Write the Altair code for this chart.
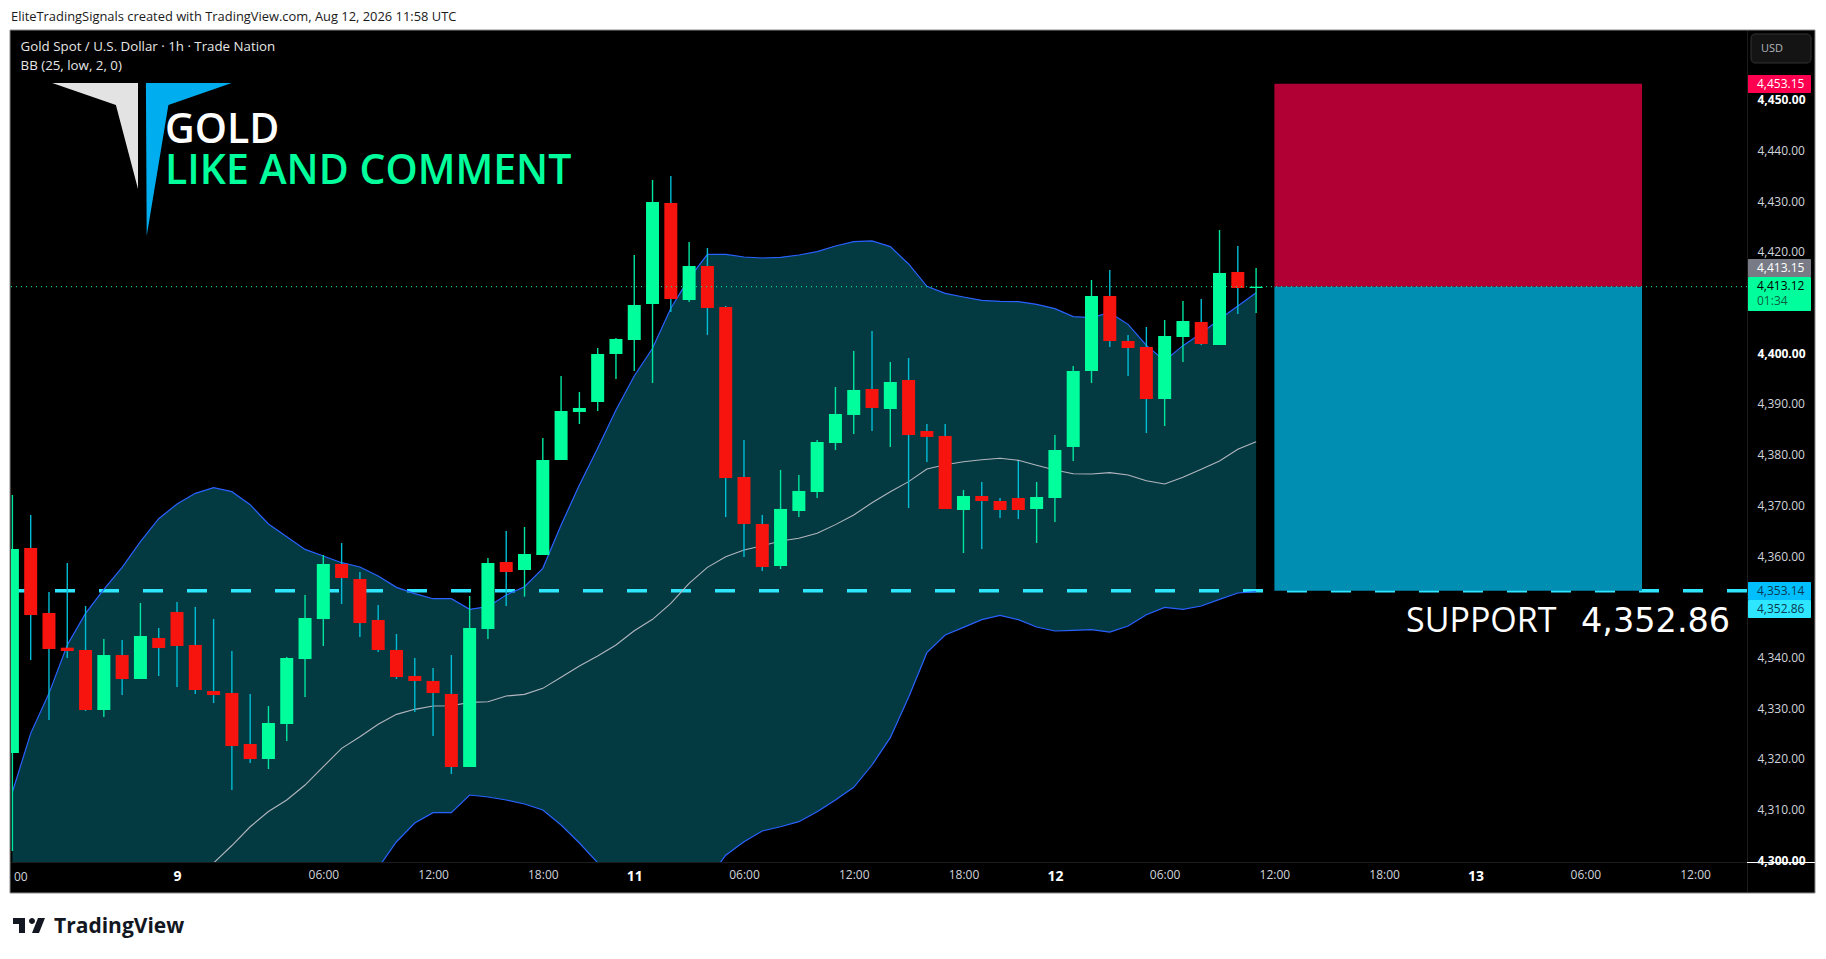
import altair as alt
import pandas as pd

# ---- candles (bar index = position in the list)
opens = [4321.14,4361.58,4348.76,4341.92,4341.46,4329.63,4340.47,4335.74,4343.83,4348.95,
         4342.45,4333.37,4332.98,4322.92,4319.96,4326.86,4339.68,4347.57,4358.42,4355.46,
         4347.38,4341.46,4336.33,4335.35,4332.78,4318.38,4345.60,4358.82,4357.24,4360.20,
         4378.94,4388.41,4390.38,4399.85,4402.61,4409.71,4429.63,4410.50,4417.20,4409.12,
         4375.59,4366.32,4358.03,4368.88,4372.63,4382.29,4387.82,4392.94,4389.00,4394.72,
         4384.66,4383.67,4369.08,4371.84,4370.85,4371.44,4369.27,4371.44,4381.50,4396.49,
         4411.29,4402.41,4401.23,4390.97,4403.20,4406.16,4401.62,4416.02,4412.86]
closes = [4361.38,4348.36,4341.66,4341.26,4329.63,4340.47,4335.74,4344.22,4341.85,4342.25,
          4333.57,4332.58,4322.52,4319.96,4327.06,4339.88,4347.77,4358.42,4355.66,4346.78,
          4341.46,4336.13,4335.35,4332.98,4318.38,4345.80,4358.62,4356.85,4360.40,4378.94,
          4388.60,4389.20,4399.85,4402.81,4409.51,4429.83,4410.70,4417.20,4408.92,4375.39,
          4366.32,4357.84,4369.28,4372.83,4382.49,4388.01,4392.75,4389.20,4394.32,4383.87,
          4383.48,4369.27,4371.84,4370.85,4369.08,4369.08,4371.64,4380.91,4396.49,4411.29,
          4402.41,4401.03,4390.97,4403.40,4406.35,4401.82,4415.82,4412.86,4413.12]
highs = [4372.03,4368.09,4352.90,4358.62,4350.14,4343.63,4343.43,4350.73,4345.80,4350.93,
         4349.94,4347.57,4341.26,4332.78,4330.41,4340.08,4352.31,4360.20,4362.56,4356.84,
         4350.33,4344.62,4339.88,4337.91,4340.47,4352.11,4359.60,4364.94,4365.73,4383.28,
         4395.51,4392.35,4401.03,4403.00,4419.37,4434.17,4434.96,4421.94,4420.76,4409.32,
         4382.89,4368.09,4376.97,4375.98,4382.89,4393.34,4400.44,4404.38,4398.27,4399.06,
         4386.04,4386.04,4373.02,4374.60,4371.44,4378.74,4374.60,4383.87,4397.48,4414.44,
         4416.41,4403.59,4405.17,4406.55,4410.30,4410.69,4424.30,4421.15,4416.81]
lows = [4301.80,4339.49,4327.65,4339.88,4329.43,4328.24,4332.58,4335.74,4336.33,4334.16,
        4332.78,4331.01,4313.85,4319.17,4317.99,4323.51,4332.19,4342.25,4350.53,4344.02,
        4341.07,4335.74,4329.23,4324.50,4317.00,4318.38,4343.63,4350.14,4351.98,4360.20,
        4378.94,4386.04,4388.60,4394.92,4396.50,4394.13,4408.13,4410.10,4403.60,4367.70,
        4359.81,4357.05,4357.44,4367.70,4371.45,4380.91,4384.07,4384.66,4381.50,4369.47,
        4378.55,4369.27,4360.60,4361.38,4367.50,4367.30,4362.57,4366.71,4378.74,4394.13,
        4401.23,4395.51,4384.26,4385.64,4398.27,4401.62,4401.62,4407.73,4407.93]

# ---- Bollinger bands
bb_upper = [4313.45,4325.02,4332.91,4342.45,4348.69,4353.43,4357.76,4362.83,4367.36,4370.26,
            4372.36,4373.48,4372.69,4370.12,4366.31,4363.81,4361.31,4360.00,4358.68,4357.83,
            4356.05,4353.82,4352.57,4351.58,4351.58,4349.48,4350.00,4352.31,4353.95,4357.57,
            4366.12,4374.01,4381.24,4388.80,4395.51,4400.97,4408.86,4414.77,4419.51,4419.51,
            4418.98,4418.78,4418.91,4419.37,4420.03,4421.15,4422.00,4422.14,4421.02,4417.60,
            4413.19,4411.81,4411.09,4410.43,4410.23,4410.17,4409.64,4408.79,4407.21,4407.01,
            4408.00,4405.69,4401.55,4398.53,4401.49,4403.92,4406.68,4409.31,4411.94]
bb_basis = [4270.0,4273.0,4276.0,4279.0,4282.0,4285.0,4287.5,4290.0,4292.5,4295.0,
            4297.3,4299.45,4302.90,4306.60,4309.60,4311.87,4314.83,4318.45,4322.06,4324.37,
            4326.80,4328.77,4329.76,4330.42,4330.48,4331.14,4331.27,4332.39,4332.71,4333.90,
            4336.07,4338.30,4340.27,4342.44,4345.27,4347.51,4350.66,4354.61,4357.76,4359.87,
            4361.19,4362.04,4362.96,4363.49,4364.47,4366.19,4368.09,4370.52,4372.69,4374.67,
            4377.16,4378.00,4378.60,4379.00,4379.27,4378.87,4377.89,4376.96,4376.24,4376.18,
            4376.44,4375.98,4374.86,4374.20,4375.52,4377.10,4378.74,4381.04,4382.55]
bb_lower = [4230.0,4224.0,4221.0,4217.0,4215.0,4215.0,4216.0,4217.0,4218.0,4220.0,
            4222.0,4225.0,4233.0,4243.0,4253.0,4260.0,4268.0,4277.0,4285.0,4291.0,
            4298.50,4303.65,4307.34,4309.37,4309.37,4312.86,4312.47,4311.88,4311.09,4309.90,
            4306.95,4303.40,4299.50,4294.00,4290.00,4287.00,4286.00,4288.00,4296.00,4301.00,
            4303.65,4305.76,4306.61,4307.60,4309.57,4311.88,4314.38,4318.78,4324.17,4332.13,
            4340.94,4344.42,4345.93,4347.45,4348.30,4347.45,4346.00,4345.21,4345.34,4345.47,
            4345.01,4346.20,4348.43,4349.88,4349.48,4350.14,4351.46,4352.71,4352.97]

# ---- levels and position tool
price_last = 4413.12
price_top = 4453.15
price_support = 4353.14
box_start = 69
box_end = 89.1

# ---- axes
time_ticks = [9, 17, 23, 29, 34, 40, 46, 52, 57, 63, 69, 75, 80, 86, 92]
time_labels = ["9", "06:00", "12:00", "18:00", "11", "06:00", "12:00", "18:00", "12",
               "06:00", "12:00", "18:00", "13", "06:00", "12:00"]
bold_times = [9, 34, 57, 80]
price_ticks = [4300, 4310, 4320, 4330, 4340, 4360, 4370, 4380, 4390, 4400, 4420, 4430, 4440, 4450]
bold_prices = [4300, 4400, 4450]

BLACK = "#000000"
GREEN = "#00FF9C"
RED = "#F7140F"
WICK_RED = "#00BCD4"
WICK_GREEN = "#00E5A0"
BAND = "#033A42"
UPPER = "#2962FF"
MID = "#B2B5BE"
CYAN = "#2EE6FF"
FONT = "Open Sans"

XS = alt.Scale(domain=[-0.0765, 94.84], nice=False, zero=False, padding=0)
YS = alt.Scale(domain=[4299.65, 4463.55], nice=False, zero=False, padding=0)

n = len(opens)
df = pd.DataFrame({
    "bar": list(range(n)), "open": opens, "close": closes, "high": highs, "low": lows,
    "upper": bb_upper, "basis": bb_basis, "lower": bb_lower,
})
df["body_top"] = df[["open", "close"]].max(axis=1)
df["body_bot"] = df[["open", "close"]].min(axis=1)
df["dir"] = (df["close"] >= df["open"]).map({True: "up", False: "down"})

PAD_L, PAD_T = 11, 31  # page position of the pane origin
W, H = 1736, 831


def px(page_x):
    return page_x - PAD_L


def py(page_y):
    return page_y - PAD_T


def rect(x0, y0, x1, y1, fill, **kw):
    return alt.Chart(pd.DataFrame({"k": [0]})).mark_rect(fill=fill, **kw).encode(
        x=alt.value(px(x0)), x2=alt.value(px(x1)), y=alt.value(py(y0)), y2=alt.value(py(y1)))


def text(page_x, page_y, s, size, color, align="left", weight="normal", font=FONT, baseline="middle"):
    return alt.Chart(pd.DataFrame({"t": [s]})).mark_text(
        align=align, baseline=baseline, fontSize=size, color=color, fontWeight=weight, font=font
    ).encode(x=alt.value(px(page_x)), y=alt.value(py(page_y)), text="t:N")


def shape(page_x, page_y, path, fill, scale=1.0):
    return alt.Chart(pd.DataFrame({"k": [0]})).mark_point(
        shape=path, size=4 * scale * scale, filled=True, fill=fill, opacity=1, strokeWidth=0
    ).encode(x=alt.value(px(page_x)), y=alt.value(py(page_y)))


frame = rect(10, 30, 1815, 893, BLACK, stroke="#8A8A8A", strokeWidth=1)

label_expr = "[" + ",".join(f"'{s}'" for s in time_labels) + "][indexof([" + ",".join(map(str, time_ticks)) + "], datum.value)]"
bt = "indexof([" + ",".join(map(str, bold_times)) + "], datum.value) >= 0"
bp = "indexof([" + ",".join(map(str, bold_prices)) + "], datum.value) >= 0"

x_axis = alt.Axis(values=time_ticks, labelExpr=label_expr, title=None, domain=False, ticks=False, grid=False,
                  labelColor={"condition": {"test": bt, "value": "#FFFFFF"}, "value": "#D1D4DC"},
                  labelFontWeight={"condition": {"test": bt, "value": "bold"}, "value": "normal"},
                  labelFontSize={"condition": {"test": bt, "value": 14}, "value": 12},
                  labelFont=FONT, labelPadding=7, labelOverlap=False, labelFlush=False, zindex=1, orient="bottom")
y_axis = alt.Axis(values=price_ticks, format=",.2f", title=None, domain=False, ticks=False, grid=False,
                  labelColor={"condition": {"test": bp, "value": "#FFFFFF"}, "value": "#D1D4DC"},
                  labelFontWeight={"condition": {"test": bp, "value": "bold"}, "value": "normal"},
                  labelFont=FONT, labelFontSize=12, labelPadding=10, labelOverlap=False, zindex=1, orient="right",
                  labelAlign="left")

X = alt.X("bar:Q", scale=XS, axis=x_axis)


def Y(field):
    return alt.Y(field, scale=YS, axis=y_axis)


base = alt.Chart(df)
band = base.mark_area(fill=BAND, clip=True, opacity=1).encode(x=X, y=Y("lower:Q"), y2="upper:Q")
up_line = base.mark_line(color=UPPER, strokeWidth=1.2, clip=True).encode(x=X, y=Y("upper:Q"))
low_line = base.mark_line(color=UPPER, strokeWidth=1.2, clip=True).encode(x=X, y=Y("lower:Q"))
mid_line = base.mark_line(color=MID, strokeWidth=1.1, clip=True).encode(x=X, y=Y("basis:Q"))

wicks = base.mark_rule(strokeWidth=1.4, clip=True).encode(
    x=X, y=Y("low:Q"), y2="high:Q",
    color=alt.Color("dir:N", scale=alt.Scale(domain=["up", "down"], range=[WICK_GREEN, WICK_RED]), legend=None))
bodies = base.mark_bar(size=13, clip=True).encode(
    x=X, y=Y("body_bot:Q"), y2="body_top:Q",
    fill=alt.Fill("dir:N", scale=alt.Scale(domain=["up", "down"], range=[GREEN, RED]), legend=None))

dash = alt.Chart(pd.DataFrame({"p": [price_support]})).mark_rule(
    color=CYAN, strokeWidth=3.4, strokeDash=[20, 24]).encode(
    y=Y("p:Q"), x=alt.value(0), x2=alt.value(W))
dots = alt.Chart(pd.DataFrame({"p": [price_last]})).mark_rule(
    color=GREEN, strokeWidth=1, strokeDash=[1, 4]).encode(
    y=Y("p:Q"), x=alt.value(0), x2=alt.value(W))

box = pd.DataFrame({
    "x0": [box_start, box_start], "x1": [box_end, box_end],
    "y0": [price_last, price_support], "y1": [price_top, price_last],
    "kind": ["stop", "target"]})
boxes = alt.Chart(box).mark_rect(opacity=1).encode(
    x=alt.X("x0:Q", scale=XS, axis=x_axis), x2="x1:Q",
    y=Y("y0:Q"), y2="y1:Q",
    fill=alt.Fill("kind:N", scale=alt.Scale(domain=["stop", "target"], range=["#B10033", "#008EB3"]), legend=None))

# price-scale furniture
divider_v = rect(1747, 31, 1748, 892, "#1C1C1C")
divider_h = rect(11, 862, 1815, 863, "#1C1C1C")
white_tick = rect(1747, 862, 1815, 863, "#FFFFFF")
usd_btn = rect(1751, 34, 1811, 63, "#141414", stroke="#333333", strokeWidth=1, cornerRadius=4)
tag_a = rect(1748, 75, 1811, 93, "#FF0050", cornerRadius=1)
tag_b = rect(1748, 259, 1811, 277, "#787B86", cornerRadius=1)
tag_c = rect(1748, 277, 1811, 311, GREEN, cornerRadius=1)
tag_d = rect(1748, 582, 1811, 600, "#00BFFF", cornerRadius=1)
tag_e = rect(1748, 600, 1811, 618, CYAN, cornerRadius=1)

GRAY_POLY = "M0 0L85.8 0L85.8 106L63.7 22Z"
BLUE_POLY = "M0 0L85.8 0L22.5 22L0.8 153Z"
TV_LOGO = "M14 6H2v6h6v9h6V6Zm14 15h-7l6-15h7l-6 15Zm-7-9a3 3 0 1 0 0-6 3 3 0 0 0 0 6Z"

chart = alt.layer(
    frame, band, dash, up_line, low_line, mid_line, wicks, bodies, boxes, dots,
    divider_v, divider_h, white_tick, usd_btn, tag_a, tag_b, tag_c, tag_d, tag_e,
    shape(52.2, 83, GRAY_POLY, "#E3E3E3"),
    shape(145.9, 83, BLUE_POLY, "#00ADEE"),
    shape(11, 912, TV_LOGO, "#131722"),
    text(54, 927, "TradingView", 21, "#131722", weight="bold"),
    text(11, 17, "EliteTradingSignals created with TradingView.com, Aug 12, 2026 11:58 UTC", 12.9, "#1A1A1A"),
    text(20.6, 46.5, "Gold Spot / U.S. Dollar · 1h · Trade Nation", 13.3, "#E6E6E6"),
    text(20.6, 65.5, "BB (25, low, 2, 0)", 13.3, "#E6E6E6"),
    text(165, 143, "GOLD", 41, "#FFFFFF", baseline="alphabetic", weight=600),
    text(165, 183.7, "LIKE AND COMMENT", 41, "#00FF9C", baseline="alphabetic", weight=600),
    text(1406, 632, "SUPPORT", 34, "#FFFFFF", baseline="alphabetic"),
    text(1581, 632, "4,352.86", 33.5, "#FFFFFF", baseline="alphabetic", font="DejaVu Sans"),
    text(1772, 48.5, "USD", 11, "#B2B5BE", align="center"),
    text(1757, 84, "4,453.15", 12, "#FFFFFF"),
    text(1757, 268, "4,413.15", 12, "#FFFFFF"),
    text(1757, 286, "4,413.12", 12, "#000000"),
    text(1757, 301, "01:34", 12, "#0B5F43"),
    text(1757, 590.5, "4,353.14", 12, "#0B3A52"),
    text(1757, 608.5, "4,352.86", 12, "#0B3A52"),
    text(14, 876.7, "00", 12, "#D1D4DC"),
).properties(
    width=W, height=H,
    background="#FFFFFF",
    padding={"left": 3, "top": 23, "right": 71, "bottom": 89},
    autosize=alt.AutoSizeParams(type="none"),
).configure_view(stroke=None, fill=None).resolve_scale(color="independent", fill="independent")

chart.save("out.html", embed_options={"renderer": "svg", "actions": False})
